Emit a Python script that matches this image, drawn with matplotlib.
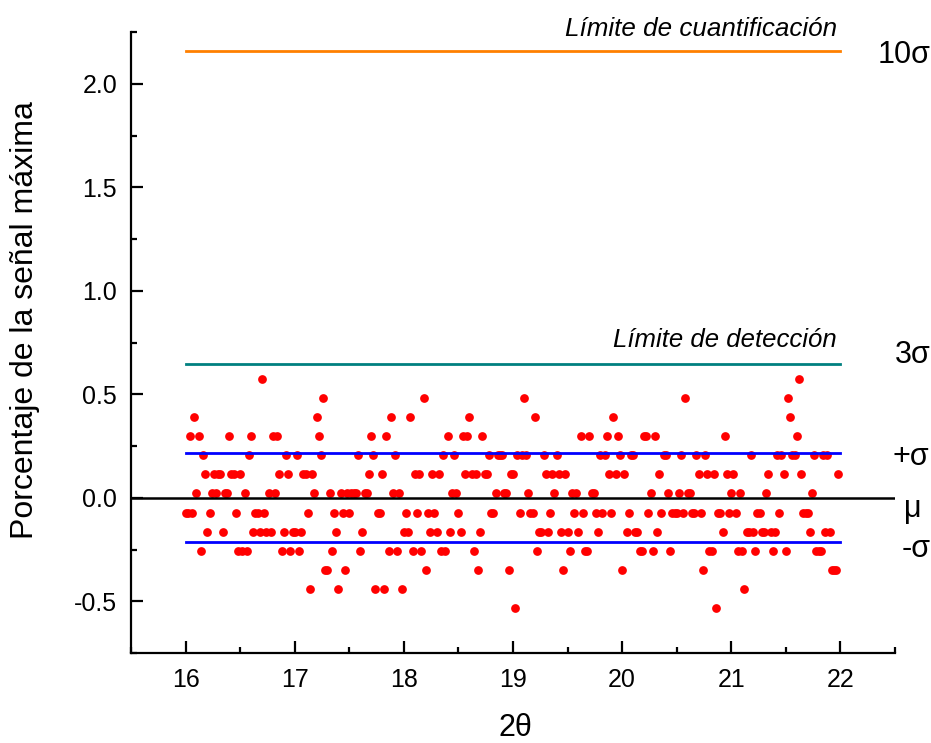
import matplotlib
matplotlib.use("Agg")
import matplotlib.pyplot as plt
import numpy as np
from matplotlib.ticker import MultipleLocator

# ---------------- data ----------------
x_start = 16.0
x_step = 0.02

signal_a = [-0.072, -0.072, 0.298, -0.072, 0.391, 0.021, 0.298, -0.257, 0.206, 0.113,
            -0.164, -0.072, 0.021, 0.113, 0.021, 0.113, 0.113, -0.164, 0.021, 0.021,
            0.298, 0.113, 0.113, -0.072, -0.257, 0.113, -0.257, 0.021, -0.257, 0.206,
            0.298, -0.164, -0.072, -0.072, -0.164, 0.576, -0.072, -0.164, 0.021, -0.164,
            0.298, 0.021, 0.298, 0.113, -0.257, -0.164, 0.206, 0.113, -0.257, -0.164]
signal_b = [-0.164, 0.206, -0.257, -0.164, 0.113, 0.113, -0.072, -0.442, 0.113, 0.021,
            0.391, 0.298, 0.206, 0.483, -0.349, -0.349, 0.021, -0.257, -0.072, -0.164,
            -0.442, 0.021, -0.072, -0.349, 0.021, -0.072, 0.021, 0.021, 0.021, 0.206,
            -0.257, -0.164, 0.021, 0.021, 0.113, 0.298, 0.206, -0.442, -0.072, -0.072,
            0.113, -0.442, 0.298, -0.257, 0.391, 0.021, 0.206, -0.257, 0.021]
signal_c = [-0.442, -0.164, -0.072, -0.164, 0.391, -0.257, 0.113, -0.072, 0.113, -0.257,
            0.483, -0.349, -0.072, -0.164, 0.113, -0.072, -0.164, 0.113, -0.257, 0.206,
            -0.257, 0.298, -0.164, 0.021, 0.206, 0.021, -0.072, -0.164, 0.298, 0.113,
            0.298, 0.391, 0.113, -0.257, 0.113, -0.349, -0.164, 0.298, 0.113, 0.113,
            0.206, -0.072, -0.072, 0.021, 0.206, 0.206, 0.206, 0.021, 0.021, -0.349,
            0.113]
signal_d = [0.113, -0.534, 0.206, -0.072, 0.206, 0.483, 0.206, 0.021, -0.072, -0.072,
            0.391, -0.257, -0.164, -0.164, 0.206, 0.113, -0.164, -0.072, 0.113, 0.021,
            0.206, 0.113, -0.164, -0.349, 0.113, -0.164, -0.257, 0.021, -0.072, 0.021,
            -0.164, 0.298, -0.072, -0.257, -0.257, 0.298, 0.021, 0.021, -0.072, -0.164,
            0.206, -0.072, 0.206, 0.298, 0.113, -0.072, 0.391, 0.113, 0.298, 0.206,
            -0.349]
signal_e = [0.113, -0.164, -0.072, 0.206, 0.206, -0.164, -0.164, -0.257, -0.257, 0.298,
            0.298, -0.072, 0.021, -0.257, 0.298, -0.164, 0.113, -0.072, 0.206, 0.206,
            0.021, -0.257, -0.072, -0.072, -0.072, 0.021, 0.206, -0.072, 0.483, 0.021,
            0.021, -0.072, -0.072, 0.206, 0.113, -0.072, -0.349, 0.206, 0.113, -0.257,
            -0.257, 0.113, -0.534, -0.072, -0.072, -0.164, 0.298, 0.113, -0.072, 0.021]
signal_f = [0.113, -0.072, -0.257, 0.021, -0.257, -0.442, -0.164, -0.164, 0.206, -0.164,
            -0.257, -0.072, -0.072, -0.164, -0.164, 0.021, 0.113, -0.164, -0.257, -0.164,
            0.206, -0.072, 0.206, 0.113, -0.257, 0.483, 0.391, 0.206, 0.206, 0.298,
            0.576, 0.113, -0.072, -0.072, -0.072, -0.164, 0.021, 0.206, -0.257, -0.257,
            -0.257, 0.206, -0.164, 0.206, -0.164, -0.349, -0.349, -0.349, 0.113]

mu = 0.0
sigma = 0.216
line_x = [16.0, 22.0]
limit_labels = ["Límite de cuantificación", "Límite de detección"]
side_labels = ["10σ", "3σ", "+σ", "μ", "-σ"]

signal = np.array(signal_a + signal_b + signal_c + signal_d + signal_e + signal_f)
x = x_start + x_step * np.arange(len(signal))

# ---------------- figure ----------------
plt.rcParams["font.family"] = ["Liberation Sans", "DejaVu Sans"]
plt.rcParams["axes.unicode_minus"] = False

fig = plt.figure(figsize=(9.31, 7.43), dpi=100)
ax = fig.add_axes([131 / 931, 1 - 653 / 743, (895 - 131) / 931, (653 - 32) / 743])

ax.set_xlim(15.5, 22.5)
ax.set_ylim(-0.75, 2.25)
for s in ["top", "right"]:
    ax.spines[s].set_visible(False)
for s in ["left", "bottom"]:
    ax.spines[s].set_linewidth(1.6)

ax.xaxis.set_major_locator(MultipleLocator(1))
ax.xaxis.set_minor_locator(MultipleLocator(0.5))
ax.yaxis.set_major_locator(MultipleLocator(0.5))
ax.yaxis.set_minor_locator(MultipleLocator(0.25))
ax.tick_params(which="both", direction="in", width=1.6, labelsize=18)
ax.tick_params(which="major", length=8.5)
ax.tick_params(which="minor", length=4)
ax.tick_params(axis="x", pad=11)
ax.tick_params(axis="y", pad=10)

ax.plot(x, signal, "o", color="#FF0000", ms=6.3, mew=0, zorder=3, clip_on=False)

ax.plot(line_x, [mu + 10 * sigma] * 2, color="#FF8000", lw=2.0, zorder=4)
ax.plot(line_x, [mu + 3 * sigma] * 2, color="#008080", lw=2.0, zorder=4)
ax.plot(line_x, [mu + sigma] * 2, color="#0000FF", lw=2.0, zorder=4)
ax.plot(line_x, [mu - sigma] * 2, color="#0000FF", lw=2.0, zorder=4)
ax.axhline(mu, color="black", lw=1.8, zorder=4)

ax.text(21.97, 2.23, limit_labels[0], style="italic", ha="right", va="baseline", fontsize=18.7)
ax.text(21.97, 0.729, limit_labels[1], style="italic", ha="right", va="baseline", fontsize=18.5)

side_pos = [(22.34, 2.10), (22.495, 0.649), (22.475, 0.156), (22.586, -0.094), (22.56, -0.288)]
for lab, (tx, ty) in zip(side_labels, side_pos):
    ax.text(tx, ty, lab, ha="left", va="baseline", fontsize=22, clip_on=False)

fig.text(25 / 931, 1 - 320 / 743, "Porcentaje de la señal máxima", rotation=90,
         ha="center", va="center", fontsize=23)
fig.text(515 / 931, 1 - 728 / 743, "2θ", ha="center", va="center", fontsize=22)

fig.savefig("out.png", dpi=100)
